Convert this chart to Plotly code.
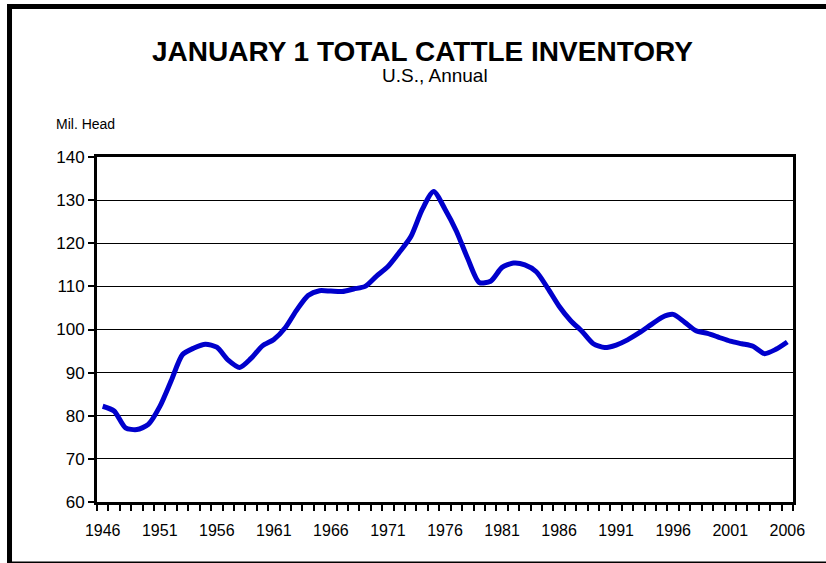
import plotly.graph_objects as go

years = list(range(1946, 2007))
inventory = [82.2, 81.1, 77.2, 76.8, 78.0, 82.1, 88.1, 94.2, 95.7, 96.6,
             95.9, 92.9, 91.2, 93.3, 96.2, 97.7, 100.4, 104.5, 107.9, 109.0,
             108.9, 108.8, 109.4, 110.0, 112.4, 114.6, 117.9, 121.5, 127.8, 132.0,
             127.9, 122.8, 116.4, 110.9, 111.2, 114.4, 115.4, 115.0, 113.4, 109.6,
             105.4, 102.1, 99.6, 96.7, 95.8, 96.4, 97.6, 99.2, 101.0, 102.8,
             103.5, 101.7, 99.7, 99.1, 98.2, 97.3, 96.7, 96.1, 94.4, 95.4,
             97.1]
tick_years = list(range(1946, 2007, 5))
tick_labels = [str(y) for y in tick_years]

title_text = "JANUARY 1 TOTAL CATTLE INVENTORY"
subtitle_text = "U.S., Annual"
yunit_text = "Mil. Head"

FONT = "Liberation Sans, Arial, sans-serif"

fig = go.Figure()
fig.add_trace(go.Scatter(
    x=years, y=inventory, mode="lines",
    line=dict(color="#0000CC", width=5, shape="spline", smoothing=0.7),
    showlegend=False, hoverinfo="x+y",
))

fig.update_layout(
    width=826, height=563,
    margin=dict(l=97, r=33, t=157, b=61),
    paper_bgcolor="white", plot_bgcolor="white",
    font=dict(family=FONT, color="black"),
    xaxis=dict(
        range=[1945.5, 2006.5],
        tickmode="array", tickvals=tick_years, ticktext=tick_labels,
        ticks="", ticklen=0, showgrid=False, zeroline=False,
        tickfont=dict(size=16, family=FONT, color="black"),
        ticklabelstandoff=12,
        showline=True, linecolor="black", linewidth=3, mirror=True,
        minor=dict(tick0=1945.5, dtick=1, ticks="outside", ticklen=6,
                   tickwidth=1.5, tickcolor="black", showgrid=False),
    ),
    yaxis=dict(
        range=[60, 140], dtick=10, tick0=60,
        ticks="outside", ticklen=6, tickwidth=1.5, tickcolor="black",
        showgrid=True, gridcolor="black", gridwidth=1.2, zeroline=False,
        tickfont=dict(size=17, family=FONT, color="black"),
        showline=True, linecolor="black", linewidth=3, mirror=True,
    ),
    annotations=[
        dict(text=title_text, x=0.467, y=1.307, xref="paper", yref="paper",
             showarrow=False, xanchor="center", yanchor="middle",
             font=dict(size=28, family=FONT, color="black", weight="bold")),
        dict(text=subtitle_text, x=0.485, y=1.236, xref="paper", yref="paper",
             showarrow=False, xanchor="center", yanchor="middle",
             font=dict(size=19, family=FONT, color="black")),
        dict(text=yunit_text, x=-0.062, y=1.096, xref="paper", yref="paper",
             showarrow=False, xanchor="left", yanchor="middle",
             font=dict(size=14, family=FONT, color="black")),
    ],
    shapes=[
        dict(type="rect", xref="paper", yref="paper",
             x0=-0.1257, x1=1.12, y0=-0.1797, y1=1.436,
             line=dict(color="black", width=5), fillcolor="rgba(0,0,0,0)",
             layer="above"),
    ],
)

fig.write_html("out.html",
               config={"displayModeBar": False},
               post_script="document.body.style.margin='0';document.body.style.padding='0';")
